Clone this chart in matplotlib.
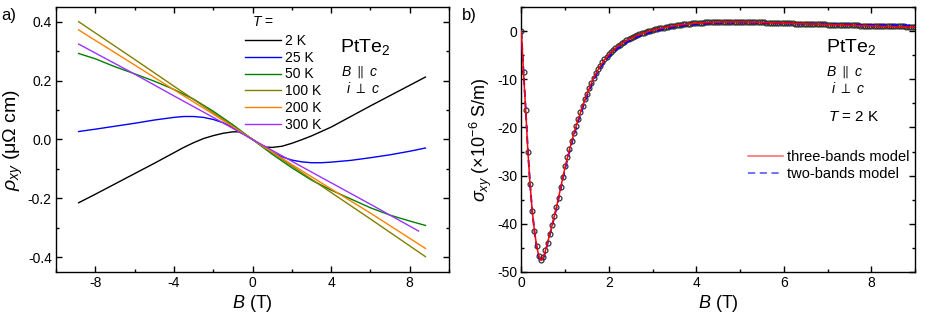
import numpy as np
import matplotlib
matplotlib.use("Agg")
import matplotlib.pyplot as plt
from matplotlib.ticker import MultipleLocator, FormatStrFormatter

plt.rcParams['font.family'] = ['Liberation Sans', 'DejaVu Sans']
plt.rcParams['mathtext.fontset'] = 'custom'
plt.rcParams['mathtext.rm'] = 'Liberation Sans'
plt.rcParams['mathtext.it'] = 'Liberation Sans:italic'
plt.rcParams['mathtext.bf'] = 'Liberation Sans:bold'
plt.rcParams['mathtext.fallback'] = 'stixsans'
plt.rcParams['axes.unicode_minus'] = False

# ---- panel a) Hall resistivity vs field, several temperatures ----
labels_T = ['2 K', '25 K', '50 K', '100 K', '200 K', '300 K']
colors_T = ['black', '#0000ff', '#008000', '#808000', '#ff8000', '#9933ff']

B_2K = [-8.85, -8, -7, -6, -5, -4, -3.5, -3, -2.5, -2, -1.5, -1, -0.7, -0.4, 0,
        0.4, 0.7, 1, 1.5, 2, 2.5, 3, 3.5, 4, 5, 6, 7, 8, 8.8]
rho_2K = [-0.215, -0.186, -0.151, -0.116, -0.081, -0.045, -0.027, -0.011, 0.003, 0.013,
          0.021, 0.026, 0.026, 0.017, 0, -0.017, -0.026, -0.027, -0.023, -0.013,
          -0.001, 0.012, 0.027, 0.042, 0.078, 0.114, 0.149, 0.184, 0.212]

B_25K = [-8.85, -8, -7, -6, -5, -4, -3.5, -3, -2.5, -2, -1.5, -1, -0.5, 0,
         0.5, 1, 1.5, 2, 2.5, 3, 3.5, 4, 5, 6, 7, 8, 8.8]
rho_25K = [0.027, 0.035, 0.045, 0.055, 0.066, 0.075, 0.078, 0.078, 0.075, 0.068, 0.057,
           0.041, 0.021, 0, -0.022, -0.043, -0.059, -0.07, -0.076, -0.079, -0.079,
           -0.077, -0.071, -0.062, -0.052, -0.04, -0.029]

B_50K = [-8.85, -8, -7, -6, -5, -4, -3, -2, -1, 0, 1, 2, 3, 4, 5, 6, 7, 8, 8.8]
rho_50K = [0.292, 0.274, 0.247, 0.223, 0.198, 0.17, 0.137, 0.096, 0.05, 0, -0.05, -0.096,
           -0.138, -0.172, -0.202, -0.232, -0.257, -0.277, -0.292]

B_100K = [-8.85, -6, -4, -2, 0, 2, 4, 6, 8.8]
rho_100K = [0.4, 0.272, 0.181, 0.091, 0, -0.09, -0.18, -0.27, -0.398]

B_200K = [-8.85, -6, -4, -2, 0, 2, 4, 6, 8.8]
rho_200K = [0.372, 0.253, 0.169, 0.086, 0, -0.085, -0.168, -0.25, -0.37]

B_300K = [-8.85, -6, -4, -2, 0, 2, 4, 6, 8.45]
rho_300K = [0.324, 0.222, 0.148, 0.075, 0, -0.074, -0.147, -0.22, -0.311]

# ---- panel b) Hall conductivity at 2 K with fits ----
sigma_data = [
    0, -8.5, -16.3, -25.0, -31.8, -37.3, -41.4, -44.6, -46.6, -47.6,
    -46.9, -45.5, -43.9, -42.2, -40.3, -38.4, -36.6, -34.6, -32.4, -30.2,
    -28.0, -26.2, -24.5, -22.8, -21.2, -19.7, -18.3, -16.9, -15.5, -14.2,
    -13.0, -11.8, -10.7, -9.7, -8.8, -7.9, -7.2, -6.5, -5.9, -5.3,
    -4.8, -4.3, -3.9, -3.5, -3.1, -2.8, -2.5, -2.2, -1.9, -1.6,
    -1.4, -1.2, -1.0, -0.8, -0.6, -0.45, -0.3, -0.15, 0.0, 0.1,
    0.25, 0.35, 0.45, 0.55, 0.65, 0.72, 0.8, 0.88, 0.95, 1.02,
    1.1, 1.17, 1.25, 1.32, 1.4, 1.45, 1.5, 1.55, 1.6, 1.65,
    1.7, 1.72, 1.74, 1.76, 1.78, 1.8, 1.82, 1.84, 1.86, 1.88,
    1.9, 1.91, 1.92, 1.92, 1.93, 1.93, 1.93, 1.92, 1.92, 1.91,
    1.9, 1.89, 1.88, 1.87, 1.86, 1.85, 1.84, 1.83, 1.82, 1.81,
    1.8, 1.79, 1.77, 1.75, 1.74, 1.72, 1.71, 1.69, 1.68, 1.66,
    1.65, 1.63, 1.62, 1.6, 1.59, 1.57, 1.56, 1.54, 1.53, 1.51,
    1.5, 1.49, 1.47, 1.46, 1.44, 1.43, 1.41, 1.4, 1.38, 1.37,
    1.35, 1.34, 1.32, 1.31, 1.29, 1.28, 1.26, 1.25, 1.23, 1.22,
    1.2, 1.19, 1.18, 1.17, 1.16, 1.15, 1.14, 1.13, 1.12, 1.11,
    1.1, 1.09, 1.08, 1.07, 1.06, 1.05, 1.04, 1.03, 1.02, 1.01,
    1.0, 0.99, 0.98, 0.97, 0.96, 0.95, 0.94, 0.93, 0.92, 0.91,
    0.9,
]
# field sweep of the measurement: 0 to 9 T in 0.05 T steps
B_data = np.arange(len(sigma_data)) * 0.05

B_fit = [0, 0.05, 0.1, 0.15, 0.2, 0.25, 0.3, 0.35, 0.4, 0.45, 0.5, 0.55, 0.6, 0.7,
         0.8, 0.9, 1.0, 1.1, 1.2, 1.3, 1.4, 1.5, 1.6, 1.7, 1.8, 1.9, 2.0, 2.2, 2.4,
         2.6, 2.8, 3.0, 3.3, 3.6, 4.0, 4.5, 5, 6, 7, 8, 9]
sigma_three = [0, -8.6, -16.5, -25, -31.9, -37.4, -41.5, -44.6, -46.7, -47.6, -47.1,
               -45.6, -43.9, -40.4, -36.7, -32.5, -28.2, -24.6, -21.3, -18.3, -15.6,
               -13.1, -10.8, -8.9, -7.3, -6.0, -4.9, -3.2, -2.0, -1.1, -0.4, 0.2, 0.8,
               1.25, 1.65, 1.85, 1.9, 1.65, 1.35, 1.05, 0.8]
sigma_two = [0, -8.4, -16.2, -24.8, -31.8, -37.4, -41.6, -44.8, -46.9, -47.8, -47.3,
             -45.8, -44.1, -40.6, -36.9, -32.8, -28.6, -25.0, -21.7, -18.7, -16.0,
             -13.5, -11.2, -9.3, -7.7, -6.4, -5.3, -3.6, -2.4, -1.4, -0.7, -0.1, 0.5,
             1.0, 1.45, 1.7, 1.8, 1.6, 1.4, 1.25, 1.15]


def style_axes(ax):
    ax.tick_params(which='both', direction='in', top=True, right=True,
                   width=1.0, labelsize=10, pad=3)
    ax.tick_params(which='major', length=4)
    ax.tick_params(which='minor', length=2.5)
    for s in ax.spines.values():
        s.set_linewidth(1.0)


def main():
    fig = plt.figure(figsize=(9.26, 3.23), dpi=100)
    ax1 = fig.add_axes([0.0605, 0.158, 0.4244, 0.8204])
    ax2 = fig.add_axes([0.563, 0.158, 0.4252, 0.8204])

    # panel a
    curves = [(B_2K, rho_2K), (B_25K, rho_25K), (B_50K, rho_50K),
              (B_100K, rho_100K), (B_200K, rho_200K), (B_300K, rho_300K)]
    for (b, r), lab, c in zip(curves, labels_T, colors_T):
        ax1.plot(b, r, color=c, lw=1.0, label=lab)
    ax1.set_xlim(-10, 10)
    ax1.set_ylim(-0.45, 0.45)
    ax1.xaxis.set_major_locator(MultipleLocator(4))
    ax1.xaxis.set_minor_locator(MultipleLocator(2))
    ax1.yaxis.set_major_locator(MultipleLocator(0.2))
    ax1.yaxis.set_minor_locator(MultipleLocator(0.1))
    ax1.yaxis.set_major_formatter(FormatStrFormatter('%.1f'))
    style_axes(ax1)
    ax1.set_xlabel('$B$ (T)', fontsize=13, labelpad=2)
    ax1.set_ylabel(r'$\rho_{xy}$ (μΩ cm)', fontsize=14, labelpad=2)
    ax1.legend(loc='upper left', bbox_to_anchor=(0.455, 0.935), frameon=False,
               fontsize=10, handlelength=2.6, handletextpad=0.3, labelspacing=0.2,
               borderpad=0.2)
    ax1.text(0.527, 0.943, '$T$ =', transform=ax1.transAxes, fontsize=10,
             ha='center', va='center')
    ax1.text(0.723, 0.85, 'PtTe$_2$', transform=ax1.transAxes, fontsize=14,
             ha='left', va='center')
    ax1.text(0.725, 0.755, r'$B\ \parallel\ c$', transform=ax1.transAxes, fontsize=10,
             ha='left', va='center')
    ax1.text(0.737, 0.693, r'$i\ \perp\ c$', transform=ax1.transAxes, fontsize=10,
             ha='left', va='center')
    fig.text(0.001, 0.975, 'a)', fontsize=12, ha='left', va='top')

    # panel b
    ax2.plot(B_data, sigma_data, 'o', ms=3.5, mfc='none', mec='#333333', mew=0.9,
             zorder=2)
    ax2.plot(B_fit, sigma_two, '--', color='#0000ff', lw=1.3, dashes=(4, 2.5),
             label='two-bands model', zorder=3)
    ax2.plot(B_fit, sigma_three, '-', color='#ff0000', lw=1.1,
             label='three-bands model', zorder=4)
    ax2.set_xlim(0, 9)
    ax2.set_ylim(-50, 5)
    ax2.xaxis.set_major_locator(MultipleLocator(2))
    ax2.xaxis.set_minor_locator(MultipleLocator(1))
    ax2.yaxis.set_major_locator(MultipleLocator(10))
    ax2.yaxis.set_minor_locator(MultipleLocator(5))
    style_axes(ax2)
    ax2.set_xlabel('$B$ (T)', fontsize=13, labelpad=2)
    ax2.set_ylabel(r'$\sigma_{xy}$ (×10$^{-6}$ S/m)', fontsize=13, labelpad=2)
    h, l = ax2.get_legend_handles_labels()
    leg = ax2.legend(h[::-1], l[::-1], loc='upper left', bbox_to_anchor=(0.55, 0.5),
                     frameon=False, fontsize=10.5, handlelength=2.4,
                     handletextpad=0.3, labelspacing=0.25, borderpad=0.2)
    for line in leg.get_lines():
        line.set_alpha(0.6)
    ax2.text(0.773, 0.85, 'PtTe$_2$', transform=ax2.transAxes, fontsize=14,
             ha='left', va='center')
    ax2.text(0.775, 0.755, r'$B\ \parallel\ c$', transform=ax2.transAxes, fontsize=10,
             ha='left', va='center')
    ax2.text(0.787, 0.693, r'$i\ \perp\ c$', transform=ax2.transAxes, fontsize=10,
             ha='left', va='center')
    ax2.text(0.78, 0.584, '$T$ = 2 K', transform=ax2.transAxes, fontsize=11,
             ha='left', va='center')
    fig.text(0.4985, 0.975, 'b)', fontsize=12, ha='left', va='top')

    fig.savefig('out.png', dpi=100)


if __name__ == '__main__':
    main()
